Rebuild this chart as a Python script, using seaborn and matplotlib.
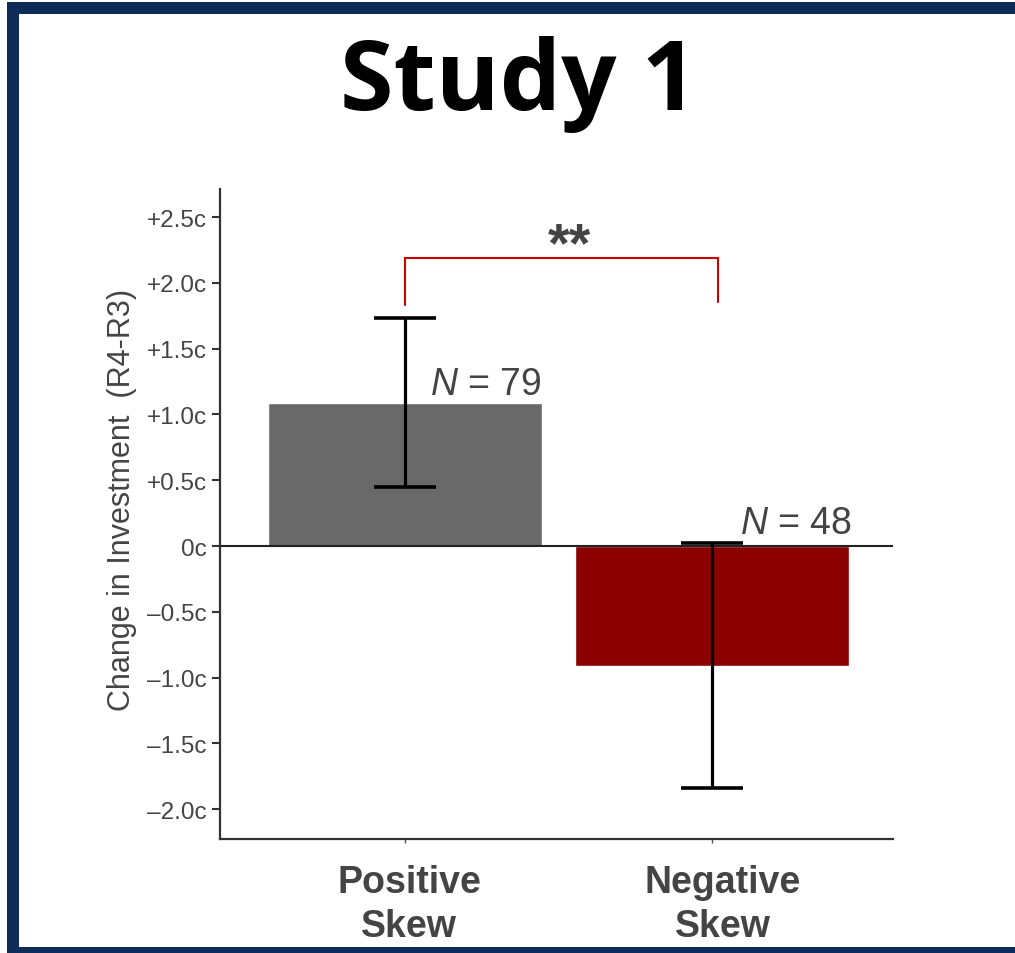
import matplotlib
matplotlib.use("Agg")
import matplotlib.pyplot as plt
import matplotlib.transforms as mtransforms
import seaborn as sns
import pandas as pd
from matplotlib.patches import Rectangle

# Summary data: mean change in investment (cents) with 95% CI half-widths
conditions = ["Positive\nSkew", "Negative\nSkew"]
mean_change = [1.09, -0.91]
ci_halfwidth = [0.645, 0.93]
sample_sizes = [79, 48]
bar_colors = ["#696969", "#8b0000"]

y_ticks = [-2.0, -1.5, -1.0, -0.5, 0.0, 0.5, 1.0, 1.5, 2.0, 2.5]
y_tick_labels = ["\u20132.0c", "\u20131.5c", "\u20131.0c", "\u20130.5c", "0c",
                 "+0.5c", "+1.0c", "+1.5c", "+2.0c", "+2.5c"]

title = "Study 1"
y_label = "Change in Investment  (R4-R3)"
sig_label = "**"
bracket_height = 2.19
bracket_legs = [1.83, 1.855]

TEXT = "#444444"
FRAME = "#0f2b57"

sns.set_style("ticks")
plt.rcParams["font.family"] = ["Liberation Sans", "DejaVu Sans"]
plt.rcParams["mathtext.fontset"] = "custom"
plt.rcParams["mathtext.it"] = "Liberation Sans:italic"
plt.rcParams["mathtext.rm"] = "Liberation Sans"

fig = plt.figure(figsize=(10.15, 9.54), dpi=100)
fig.patch.set_facecolor("white")

# Navy frame along the top, left and bottom edges
for x0, y0, w, h in [(0.0069, 0.9843, 0.9931, 0.01256),
                     (0.0069, 0.0, 0.01182, 0.99686),
                     (0.0069, 0.0, 0.9931, 0.0058)]:
    fig.patches.append(Rectangle((x0, y0), w, h, transform=fig.transFigure,
                                 facecolor=FRAME, edgecolor="none", zorder=5))

fig.text(0.511, 0.885, title, fontsize=70, fontweight="bold",
         family=["Open Sans", "DejaVu Sans"], color="black",
         ha="center", va="baseline")

ax = fig.add_axes([0.2167, 0.1195, 0.6631, 0.6813])
df = pd.DataFrame({"condition": conditions, "change": mean_change})
sns.barplot(data=df, x="condition", y="change", hue="condition",
            palette=bar_colors, saturation=1, width=0.895, errorbar=None,
            legend=False, ax=ax, zorder=2)

ax.errorbar(range(len(conditions)), mean_change, yerr=ci_halfwidth, fmt="none",
            ecolor="black", elinewidth=2.3, capsize=22, capthick=2.6, zorder=4)

ax.axhline(0, color="#222222", lw=1.5, zorder=3)

ax.set_xlim(-0.603, 1.59)
ax.set_ylim(-2.226, 2.713)
ax.set_yticks(y_ticks)
ax.set_yticklabels(y_tick_labels)

sns.despine(ax=ax)
for side in ("left", "bottom"):
    ax.spines[side].set_linewidth(1.6)
    ax.spines[side].set_color("#333333")

ax.tick_params(axis="y", labelsize=17.5, labelcolor=TEXT, length=6, width=1.5,
               color="#333333", pad=3.5)
ax.tick_params(axis="x", labelsize=27, labelcolor=TEXT, length=3, width=1.0,
               color="#555555", pad=15)
# Category labels sit slightly right of their ticks
label_shift_px = [4, 11]
for lbl, dx in zip(ax.get_xticklabels(), label_shift_px):
    lbl.set_fontweight("bold")
    lbl.set_linespacing(1.3)
    lbl.set_transform(lbl.get_transform() +
                      mtransforms.ScaledTranslation(dx / 100, 0, fig.dpi_scale_trans))

ax.set_xlabel("")
ax.set_ylabel(y_label, fontsize=22, color=TEXT)
ax.yaxis.set_label_coords(-0.123, 0.523)

# Sample sizes
ax.text(0.08, mean_change[0] + 0.065, f"$N$ = {sample_sizes[0]}", fontsize=27,
        color=TEXT, ha="left", va="baseline")
ax.text(1.09, 0.10, f"$N$ = {sample_sizes[1]}", fontsize=27,
        color=TEXT, ha="left", va="baseline")

# Significance bracket
ax.plot([0, 0, 1.02, 1.02],
        [bracket_legs[0], bracket_height, bracket_height, bracket_legs[1]],
        color="#cc0000", lw=1.5, solid_joinstyle="miter", zorder=4)
ax.text(0.535, bracket_height - 0.02, sig_label, fontsize=40, fontweight="bold",
        color=TEXT, ha="center", va="baseline")

fig.savefig("out.png", dpi=100, facecolor="white")
